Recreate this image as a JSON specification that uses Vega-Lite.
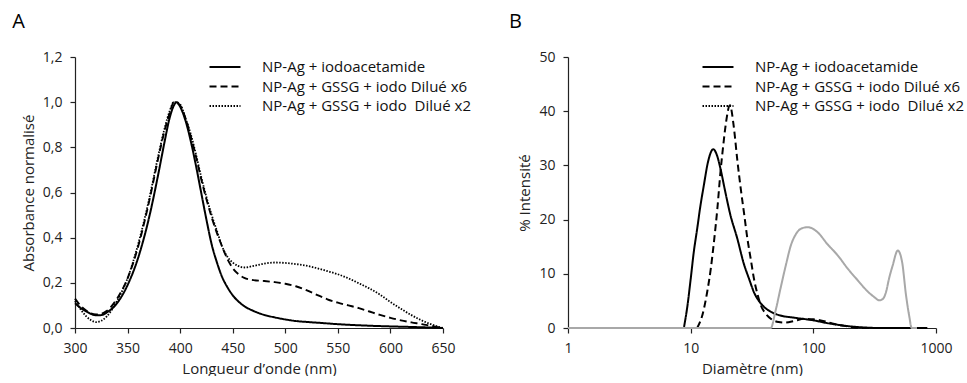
{
  "$schema": "https://vega.github.io/schema/vega-lite/v6.json",
  "background": "white",
  "padding": {"left": 12, "top": 12, "right": 0, "bottom": 0},
  "config": {
    "font": "Open Sans",
    "view": {"stroke": null},
    "axis": {"grid": false, "labelFlush": false, "domainColor": "#222", "tickColor": "#222", "labelColor": "#222", "titleColor": "#222", "labelFontSize": 14, "titleFontSize": 15, "titleFontWeight": "normal", "tickSize": 5, "labelPadding": 8, "titlePadding": 6, "domainWidth": 1.2, "tickWidth": 1.2},
    "legend": {"orient": "none", "legendX": 141, "legendY": 1, "title": null, "labelFontSize": 15, "labelLimit": 400, "labelColor": "#111", "symbolType": "M-2,0H2", "symbolSize": 240, "symbolStrokeWidth": 1.8, "symbolStrokeColor": "black", "labelOffset": 28, "rowPadding": 2.5},
    "title": {"fontSize": 20, "fontWeight": "normal", "anchor": "start", "frame": "bounds", "color": "#000", "offset": 18, "dx": -9}
  },
  "datasets": {
    "A": [
      {"wl": 300, "abs": 0.11, "serie": "NP-Ag + iodoacetamide"},
      {"wl": 305, "abs": 0.09, "serie": "NP-Ag + iodoacetamide"},
      {"wl": 310, "abs": 0.075, "serie": "NP-Ag + iodoacetamide"},
      {"wl": 315, "abs": 0.063, "serie": "NP-Ag + iodoacetamide"},
      {"wl": 320, "abs": 0.056, "serie": "NP-Ag + iodoacetamide"},
      {"wl": 325, "abs": 0.057, "serie": "NP-Ag + iodoacetamide"},
      {"wl": 330, "abs": 0.068, "serie": "NP-Ag + iodoacetamide"},
      {"wl": 340, "abs": 0.11, "serie": "NP-Ag + iodoacetamide"},
      {"wl": 350, "abs": 0.19, "serie": "NP-Ag + iodoacetamide"},
      {"wl": 360, "abs": 0.31, "serie": "NP-Ag + iodoacetamide"},
      {"wl": 370, "abs": 0.48, "serie": "NP-Ag + iodoacetamide"},
      {"wl": 380, "abs": 0.70, "serie": "NP-Ag + iodoacetamide"},
      {"wl": 385, "abs": 0.82, "serie": "NP-Ag + iodoacetamide"},
      {"wl": 390, "abs": 0.93, "serie": "NP-Ag + iodoacetamide"},
      {"wl": 394, "abs": 0.985, "serie": "NP-Ag + iodoacetamide"},
      {"wl": 397, "abs": 1.0, "serie": "NP-Ag + iodoacetamide"},
      {"wl": 400, "abs": 0.98, "serie": "NP-Ag + iodoacetamide"},
      {"wl": 405, "abs": 0.92, "serie": "NP-Ag + iodoacetamide"},
      {"wl": 410, "abs": 0.83, "serie": "NP-Ag + iodoacetamide"},
      {"wl": 415, "abs": 0.72, "serie": "NP-Ag + iodoacetamide"},
      {"wl": 420, "abs": 0.60, "serie": "NP-Ag + iodoacetamide"},
      {"wl": 425, "abs": 0.48, "serie": "NP-Ag + iodoacetamide"},
      {"wl": 430, "abs": 0.37, "serie": "NP-Ag + iodoacetamide"},
      {"wl": 435, "abs": 0.29, "serie": "NP-Ag + iodoacetamide"},
      {"wl": 440, "abs": 0.225, "serie": "NP-Ag + iodoacetamide"},
      {"wl": 445, "abs": 0.18, "serie": "NP-Ag + iodoacetamide"},
      {"wl": 450, "abs": 0.145, "serie": "NP-Ag + iodoacetamide"},
      {"wl": 460, "abs": 0.10, "serie": "NP-Ag + iodoacetamide"},
      {"wl": 470, "abs": 0.075, "serie": "NP-Ag + iodoacetamide"},
      {"wl": 480, "abs": 0.058, "serie": "NP-Ag + iodoacetamide"},
      {"wl": 490, "abs": 0.047, "serie": "NP-Ag + iodoacetamide"},
      {"wl": 500, "abs": 0.038, "serie": "NP-Ag + iodoacetamide"},
      {"wl": 510, "abs": 0.031, "serie": "NP-Ag + iodoacetamide"},
      {"wl": 520, "abs": 0.027, "serie": "NP-Ag + iodoacetamide"},
      {"wl": 535, "abs": 0.022, "serie": "NP-Ag + iodoacetamide"},
      {"wl": 550, "abs": 0.017, "serie": "NP-Ag + iodoacetamide"},
      {"wl": 575, "abs": 0.011, "serie": "NP-Ag + iodoacetamide"},
      {"wl": 600, "abs": 0.007, "serie": "NP-Ag + iodoacetamide"},
      {"wl": 625, "abs": 0.004, "serie": "NP-Ag + iodoacetamide"},
      {"wl": 650, "abs": 0.0, "serie": "NP-Ag + iodoacetamide"},
      {"wl": 300, "abs": 0.13, "serie": "NP-Ag + GSSG + iodo Dilué x6"},
      {"wl": 305, "abs": 0.10, "serie": "NP-Ag + GSSG + iodo Dilué x6"},
      {"wl": 310, "abs": 0.08, "serie": "NP-Ag + GSSG + iodo Dilué x6"},
      {"wl": 315, "abs": 0.065, "serie": "NP-Ag + GSSG + iodo Dilué x6"},
      {"wl": 320, "abs": 0.06, "serie": "NP-Ag + GSSG + iodo Dilué x6"},
      {"wl": 325, "abs": 0.063, "serie": "NP-Ag + GSSG + iodo Dilué x6"},
      {"wl": 330, "abs": 0.075, "serie": "NP-Ag + GSSG + iodo Dilué x6"},
      {"wl": 340, "abs": 0.13, "serie": "NP-Ag + GSSG + iodo Dilué x6"},
      {"wl": 350, "abs": 0.22, "serie": "NP-Ag + GSSG + iodo Dilué x6"},
      {"wl": 360, "abs": 0.36, "serie": "NP-Ag + GSSG + iodo Dilué x6"},
      {"wl": 370, "abs": 0.55, "serie": "NP-Ag + GSSG + iodo Dilué x6"},
      {"wl": 380, "abs": 0.77, "serie": "NP-Ag + GSSG + iodo Dilué x6"},
      {"wl": 385, "abs": 0.87, "serie": "NP-Ag + GSSG + iodo Dilué x6"},
      {"wl": 390, "abs": 0.95, "serie": "NP-Ag + GSSG + iodo Dilué x6"},
      {"wl": 394, "abs": 1.0, "serie": "NP-Ag + GSSG + iodo Dilué x6"},
      {"wl": 400, "abs": 0.985, "serie": "NP-Ag + GSSG + iodo Dilué x6"},
      {"wl": 405, "abs": 0.93, "serie": "NP-Ag + GSSG + iodo Dilué x6"},
      {"wl": 410, "abs": 0.85, "serie": "NP-Ag + GSSG + iodo Dilué x6"},
      {"wl": 415, "abs": 0.76, "serie": "NP-Ag + GSSG + iodo Dilué x6"},
      {"wl": 420, "abs": 0.66, "serie": "NP-Ag + GSSG + iodo Dilué x6"},
      {"wl": 425, "abs": 0.57, "serie": "NP-Ag + GSSG + iodo Dilué x6"},
      {"wl": 430, "abs": 0.49, "serie": "NP-Ag + GSSG + iodo Dilué x6"},
      {"wl": 435, "abs": 0.42, "serie": "NP-Ag + GSSG + iodo Dilué x6"},
      {"wl": 440, "abs": 0.36, "serie": "NP-Ag + GSSG + iodo Dilué x6"},
      {"wl": 445, "abs": 0.305, "serie": "NP-Ag + GSSG + iodo Dilué x6"},
      {"wl": 450, "abs": 0.265, "serie": "NP-Ag + GSSG + iodo Dilué x6"},
      {"wl": 455, "abs": 0.24, "serie": "NP-Ag + GSSG + iodo Dilué x6"},
      {"wl": 461, "abs": 0.222, "serie": "NP-Ag + GSSG + iodo Dilué x6"},
      {"wl": 470, "abs": 0.212, "serie": "NP-Ag + GSSG + iodo Dilué x6"},
      {"wl": 480, "abs": 0.208, "serie": "NP-Ag + GSSG + iodo Dilué x6"},
      {"wl": 490, "abs": 0.203, "serie": "NP-Ag + GSSG + iodo Dilué x6"},
      {"wl": 500, "abs": 0.196, "serie": "NP-Ag + GSSG + iodo Dilué x6"},
      {"wl": 510, "abs": 0.185, "serie": "NP-Ag + GSSG + iodo Dilué x6"},
      {"wl": 520, "abs": 0.168, "serie": "NP-Ag + GSSG + iodo Dilué x6"},
      {"wl": 530, "abs": 0.147, "serie": "NP-Ag + GSSG + iodo Dilué x6"},
      {"wl": 540, "abs": 0.127, "serie": "NP-Ag + GSSG + iodo Dilué x6"},
      {"wl": 550, "abs": 0.112, "serie": "NP-Ag + GSSG + iodo Dilué x6"},
      {"wl": 560, "abs": 0.10, "serie": "NP-Ag + GSSG + iodo Dilué x6"},
      {"wl": 570, "abs": 0.088, "serie": "NP-Ag + GSSG + iodo Dilué x6"},
      {"wl": 580, "abs": 0.073, "serie": "NP-Ag + GSSG + iodo Dilué x6"},
      {"wl": 590, "abs": 0.058, "serie": "NP-Ag + GSSG + iodo Dilué x6"},
      {"wl": 600, "abs": 0.045, "serie": "NP-Ag + GSSG + iodo Dilué x6"},
      {"wl": 610, "abs": 0.034, "serie": "NP-Ag + GSSG + iodo Dilué x6"},
      {"wl": 620, "abs": 0.025, "serie": "NP-Ag + GSSG + iodo Dilué x6"},
      {"wl": 630, "abs": 0.017, "serie": "NP-Ag + GSSG + iodo Dilué x6"},
      {"wl": 640, "abs": 0.008, "serie": "NP-Ag + GSSG + iodo Dilué x6"},
      {"wl": 650, "abs": 0.0, "serie": "NP-Ag + GSSG + iodo Dilué x6"},
      {"wl": 300, "abs": 0.12, "serie": "NP-Ag + GSSG + iodo  Dilué x2"},
      {"wl": 305, "abs": 0.085, "serie": "NP-Ag + GSSG + iodo  Dilué x2"},
      {"wl": 310, "abs": 0.055, "serie": "NP-Ag + GSSG + iodo  Dilué x2"},
      {"wl": 315, "abs": 0.035, "serie": "NP-Ag + GSSG + iodo  Dilué x2"},
      {"wl": 320, "abs": 0.026, "serie": "NP-Ag + GSSG + iodo  Dilué x2"},
      {"wl": 325, "abs": 0.032, "serie": "NP-Ag + GSSG + iodo  Dilué x2"},
      {"wl": 330, "abs": 0.05, "serie": "NP-Ag + GSSG + iodo  Dilué x2"},
      {"wl": 340, "abs": 0.12, "serie": "NP-Ag + GSSG + iodo  Dilué x2"},
      {"wl": 350, "abs": 0.22, "serie": "NP-Ag + GSSG + iodo  Dilué x2"},
      {"wl": 360, "abs": 0.37, "serie": "NP-Ag + GSSG + iodo  Dilué x2"},
      {"wl": 370, "abs": 0.56, "serie": "NP-Ag + GSSG + iodo  Dilué x2"},
      {"wl": 380, "abs": 0.78, "serie": "NP-Ag + GSSG + iodo  Dilué x2"},
      {"wl": 385, "abs": 0.88, "serie": "NP-Ag + GSSG + iodo  Dilué x2"},
      {"wl": 390, "abs": 0.96, "serie": "NP-Ag + GSSG + iodo  Dilué x2"},
      {"wl": 394, "abs": 1.0, "serie": "NP-Ag + GSSG + iodo  Dilué x2"},
      {"wl": 400, "abs": 0.99, "serie": "NP-Ag + GSSG + iodo  Dilué x2"},
      {"wl": 405, "abs": 0.93, "serie": "NP-Ag + GSSG + iodo  Dilué x2"},
      {"wl": 410, "abs": 0.86, "serie": "NP-Ag + GSSG + iodo  Dilué x2"},
      {"wl": 415, "abs": 0.77, "serie": "NP-Ag + GSSG + iodo  Dilué x2"},
      {"wl": 420, "abs": 0.67, "serie": "NP-Ag + GSSG + iodo  Dilué x2"},
      {"wl": 425, "abs": 0.58, "serie": "NP-Ag + GSSG + iodo  Dilué x2"},
      {"wl": 430, "abs": 0.50, "serie": "NP-Ag + GSSG + iodo  Dilué x2"},
      {"wl": 435, "abs": 0.43, "serie": "NP-Ag + GSSG + iodo  Dilué x2"},
      {"wl": 440, "abs": 0.36, "serie": "NP-Ag + GSSG + iodo  Dilué x2"},
      {"wl": 445, "abs": 0.315, "serie": "NP-Ag + GSSG + iodo  Dilué x2"},
      {"wl": 450, "abs": 0.29, "serie": "NP-Ag + GSSG + iodo  Dilué x2"},
      {"wl": 455, "abs": 0.275, "serie": "NP-Ag + GSSG + iodo  Dilué x2"},
      {"wl": 461, "abs": 0.268, "serie": "NP-Ag + GSSG + iodo  Dilué x2"},
      {"wl": 470, "abs": 0.275, "serie": "NP-Ag + GSSG + iodo  Dilué x2"},
      {"wl": 480, "abs": 0.285, "serie": "NP-Ag + GSSG + iodo  Dilué x2"},
      {"wl": 490, "abs": 0.29, "serie": "NP-Ag + GSSG + iodo  Dilué x2"},
      {"wl": 500, "abs": 0.288, "serie": "NP-Ag + GSSG + iodo  Dilué x2"},
      {"wl": 510, "abs": 0.283, "serie": "NP-Ag + GSSG + iodo  Dilué x2"},
      {"wl": 520, "abs": 0.276, "serie": "NP-Ag + GSSG + iodo  Dilué x2"},
      {"wl": 530, "abs": 0.265, "serie": "NP-Ag + GSSG + iodo  Dilué x2"},
      {"wl": 540, "abs": 0.252, "serie": "NP-Ag + GSSG + iodo  Dilué x2"},
      {"wl": 550, "abs": 0.238, "serie": "NP-Ag + GSSG + iodo  Dilué x2"},
      {"wl": 560, "abs": 0.22, "serie": "NP-Ag + GSSG + iodo  Dilué x2"},
      {"wl": 570, "abs": 0.198, "serie": "NP-Ag + GSSG + iodo  Dilué x2"},
      {"wl": 580, "abs": 0.175, "serie": "NP-Ag + GSSG + iodo  Dilué x2"},
      {"wl": 590, "abs": 0.148, "serie": "NP-Ag + GSSG + iodo  Dilué x2"},
      {"wl": 600, "abs": 0.115, "serie": "NP-Ag + GSSG + iodo  Dilué x2"},
      {"wl": 610, "abs": 0.085, "serie": "NP-Ag + GSSG + iodo  Dilué x2"},
      {"wl": 620, "abs": 0.057, "serie": "NP-Ag + GSSG + iodo  Dilué x2"},
      {"wl": 630, "abs": 0.033, "serie": "NP-Ag + GSSG + iodo  Dilué x2"},
      {"wl": 640, "abs": 0.014, "serie": "NP-Ag + GSSG + iodo  Dilué x2"},
      {"wl": 650, "abs": 0.0, "serie": "NP-Ag + GSSG + iodo  Dilué x2"}
    ],
    "B": [
      {"d": 8.8, "pct": 0, "serie": "NP-Ag + iodoacetamide"},
      {"d": 9.4, "pct": 4, "serie": "NP-Ag + iodoacetamide"},
      {"d": 10, "pct": 9, "serie": "NP-Ag + iodoacetamide"},
      {"d": 10.6, "pct": 14, "serie": "NP-Ag + iodoacetamide"},
      {"d": 11.3, "pct": 18.3, "serie": "NP-Ag + iodoacetamide"},
      {"d": 12, "pct": 22.5, "serie": "NP-Ag + iodoacetamide"},
      {"d": 12.8, "pct": 26.3, "serie": "NP-Ag + iodoacetamide"},
      {"d": 13.8, "pct": 30.5, "serie": "NP-Ag + iodoacetamide"},
      {"d": 15.3, "pct": 33, "serie": "NP-Ag + iodoacetamide"},
      {"d": 16.3, "pct": 32, "serie": "NP-Ag + iodoacetamide"},
      {"d": 17.5, "pct": 29.4, "serie": "NP-Ag + iodoacetamide"},
      {"d": 19, "pct": 25.5, "serie": "NP-Ag + iodoacetamide"},
      {"d": 21, "pct": 21, "serie": "NP-Ag + iodoacetamide"},
      {"d": 24, "pct": 16.5, "serie": "NP-Ag + iodoacetamide"},
      {"d": 27, "pct": 12, "serie": "NP-Ag + iodoacetamide"},
      {"d": 30, "pct": 9, "serie": "NP-Ag + iodoacetamide"},
      {"d": 32.8, "pct": 6.6, "serie": "NP-Ag + iodoacetamide"},
      {"d": 36, "pct": 5, "serie": "NP-Ag + iodoacetamide"},
      {"d": 39.6, "pct": 3.9, "serie": "NP-Ag + iodoacetamide"},
      {"d": 45, "pct": 3, "serie": "NP-Ag + iodoacetamide"},
      {"d": 54, "pct": 2.3, "serie": "NP-Ag + iodoacetamide"},
      {"d": 70, "pct": 1.9, "serie": "NP-Ag + iodoacetamide"},
      {"d": 101, "pct": 1.4, "serie": "NP-Ag + iodoacetamide"},
      {"d": 130, "pct": 0.9, "serie": "NP-Ag + iodoacetamide"},
      {"d": 158, "pct": 0.6, "serie": "NP-Ag + iodoacetamide"},
      {"d": 200, "pct": 0.3, "serie": "NP-Ag + iodoacetamide"},
      {"d": 260, "pct": 0.1, "serie": "NP-Ag + iodoacetamide"},
      {"d": 350, "pct": 0, "serie": "NP-Ag + iodoacetamide"},
      {"d": 850, "pct": 0, "serie": "NP-Ag + iodoacetamide"},
      {"d": 11.3, "pct": 0, "serie": "NP-Ag + GSSG + iodo Dilué x6"},
      {"d": 12.5, "pct": 2.5, "serie": "NP-Ag + GSSG + iodo Dilué x6"},
      {"d": 13.6, "pct": 6.5, "serie": "NP-Ag + GSSG + iodo Dilué x6"},
      {"d": 14.6, "pct": 11, "serie": "NP-Ag + GSSG + iodo Dilué x6"},
      {"d": 15.5, "pct": 16, "serie": "NP-Ag + GSSG + iodo Dilué x6"},
      {"d": 16.5, "pct": 22, "serie": "NP-Ag + GSSG + iodo Dilué x6"},
      {"d": 17.5, "pct": 28.8, "serie": "NP-Ag + GSSG + iodo Dilué x6"},
      {"d": 18.5, "pct": 34, "serie": "NP-Ag + GSSG + iodo Dilué x6"},
      {"d": 19.3, "pct": 37.5, "serie": "NP-Ag + GSSG + iodo Dilué x6"},
      {"d": 20.9, "pct": 41.1, "serie": "NP-Ag + GSSG + iodo Dilué x6"},
      {"d": 22.5, "pct": 37, "serie": "NP-Ag + GSSG + iodo Dilué x6"},
      {"d": 24, "pct": 31, "serie": "NP-Ag + GSSG + iodo Dilué x6"},
      {"d": 25.6, "pct": 25.7, "serie": "NP-Ag + GSSG + iodo Dilué x6"},
      {"d": 27.3, "pct": 21, "serie": "NP-Ag + GSSG + iodo Dilué x6"},
      {"d": 29, "pct": 16.5, "serie": "NP-Ag + GSSG + iodo Dilué x6"},
      {"d": 31, "pct": 12.5, "serie": "NP-Ag + GSSG + iodo Dilué x6"},
      {"d": 32.8, "pct": 9.1, "serie": "NP-Ag + GSSG + iodo Dilué x6"},
      {"d": 35, "pct": 6.3, "serie": "NP-Ag + GSSG + iodo Dilué x6"},
      {"d": 37.3, "pct": 4.2, "serie": "NP-Ag + GSSG + iodo Dilué x6"},
      {"d": 41, "pct": 2.6, "serie": "NP-Ag + GSSG + iodo Dilué x6"},
      {"d": 45, "pct": 1.7, "serie": "NP-Ag + GSSG + iodo Dilué x6"},
      {"d": 52, "pct": 1.1, "serie": "NP-Ag + GSSG + iodo Dilué x6"},
      {"d": 58, "pct": 1.0, "serie": "NP-Ag + GSSG + iodo Dilué x6"},
      {"d": 70, "pct": 1.3, "serie": "NP-Ag + GSSG + iodo Dilué x6"},
      {"d": 84, "pct": 1.7, "serie": "NP-Ag + GSSG + iodo Dilué x6"},
      {"d": 100, "pct": 1.6, "serie": "NP-Ag + GSSG + iodo Dilué x6"},
      {"d": 115, "pct": 1.4, "serie": "NP-Ag + GSSG + iodo Dilué x6"},
      {"d": 135, "pct": 1.0, "serie": "NP-Ag + GSSG + iodo Dilué x6"},
      {"d": 158, "pct": 0.6, "serie": "NP-Ag + GSSG + iodo Dilué x6"},
      {"d": 190, "pct": 0.3, "serie": "NP-Ag + GSSG + iodo Dilué x6"},
      {"d": 215, "pct": 0.1, "serie": "NP-Ag + GSSG + iodo Dilué x6"},
      {"d": 260, "pct": 0, "serie": "NP-Ag + GSSG + iodo Dilué x6"},
      {"d": 850, "pct": 0, "serie": "NP-Ag + GSSG + iodo Dilué x6"},
      {"d": 1, "pct": 0, "serie": "NP-Ag + GSSG + iodo  Dilué x2"},
      {"d": 45, "pct": 0, "serie": "NP-Ag + GSSG + iodo  Dilué x2"},
      {"d": 49, "pct": 3, "serie": "NP-Ag + GSSG + iodo  Dilué x2"},
      {"d": 54, "pct": 7.3, "serie": "NP-Ag + GSSG + iodo  Dilué x2"},
      {"d": 60, "pct": 11.8, "serie": "NP-Ag + GSSG + iodo  Dilué x2"},
      {"d": 65.5, "pct": 15.2, "serie": "NP-Ag + GSSG + iodo  Dilué x2"},
      {"d": 72, "pct": 17.3, "serie": "NP-Ag + GSSG + iodo  Dilué x2"},
      {"d": 79, "pct": 18.3, "serie": "NP-Ag + GSSG + iodo  Dilué x2"},
      {"d": 89.7, "pct": 18.6, "serie": "NP-Ag + GSSG + iodo  Dilué x2"},
      {"d": 108, "pct": 17.7, "serie": "NP-Ag + GSSG + iodo  Dilué x2"},
      {"d": 130, "pct": 15.5, "serie": "NP-Ag + GSSG + iodo  Dilué x2"},
      {"d": 158, "pct": 13.4, "serie": "NP-Ag + GSSG + iodo  Dilué x2"},
      {"d": 190, "pct": 11, "serie": "NP-Ag + GSSG + iodo  Dilué x2"},
      {"d": 230, "pct": 8.8, "serie": "NP-Ag + GSSG + iodo  Dilué x2"},
      {"d": 270, "pct": 7, "serie": "NP-Ag + GSSG + iodo  Dilué x2"},
      {"d": 314, "pct": 5.7, "serie": "NP-Ag + GSSG + iodo  Dilué x2"},
      {"d": 345, "pct": 5.1, "serie": "NP-Ag + GSSG + iodo  Dilué x2"},
      {"d": 370, "pct": 5.4, "serie": "NP-Ag + GSSG + iodo  Dilué x2"},
      {"d": 391, "pct": 6.6, "serie": "NP-Ag + GSSG + iodo  Dilué x2"},
      {"d": 415, "pct": 9.2, "serie": "NP-Ag + GSSG + iodo  Dilué x2"},
      {"d": 443, "pct": 11.5, "serie": "NP-Ag + GSSG + iodo  Dilué x2"},
      {"d": 488, "pct": 14.3, "serie": "NP-Ag + GSSG + iodo  Dilué x2"},
      {"d": 529, "pct": 12.2, "serie": "NP-Ag + GSSG + iodo  Dilué x2"},
      {"d": 570, "pct": 6.0, "serie": "NP-Ag + GSSG + iodo  Dilué x2"},
      {"d": 605, "pct": 2.2, "serie": "NP-Ag + GSSG + iodo  Dilué x2"},
      {"d": 634, "pct": 0, "serie": "NP-Ag + GSSG + iodo  Dilué x2"},
      {"d": 700, "pct": 0, "serie": "NP-Ag + GSSG + iodo  Dilué x2"}
    ]
  },
  "spacing": 37,
  "resolve": {"scale": {"strokeDash": "independent", "color": "independent", "strokeWidth": "independent"}, "legend": {"strokeDash": "independent"}},
  "hconcat": [
    {
      "title": {"text": "A"},
      "width": 368,
      "height": 271,
      "data": {"name": "A"},
      "mark": {"type": "line", "interpolate": "monotone", "color": "black"},
      "encoding": {
        "x": {"field": "wl", "type": "quantitative", "scale": {"domain": [300, 650], "nice": false, "zero": false}, "axis": {"values": [300, 350, 400, 450, 500, 550, 600, 650], "title": "Longueur d’onde (nm)"}},
        "y": {"field": "abs", "type": "quantitative", "scale": {"domain": [0, 1.2], "nice": false}, "axis": {"values": [0, 0.2, 0.4, 0.6, 0.8, 1.0, 1.2], "labelExpr": "replace(format(datum.value, '.1f'), '.', ',')", "title": "Absorbance normalisé"}},
        "strokeDash": {"field": "serie", "type": "nominal", "scale": {"domain": ["NP-Ag + iodoacetamide", "NP-Ag + GSSG + iodo Dilué x6", "NP-Ag + GSSG + iodo  Dilué x2"], "range": [[1, 0], [7, 4], [1.5, 1.5]]}, "legend": {"labelExpr": "replace(datum.label, '  ', '\u00a0 ')"}},
        "strokeWidth": {"field": "serie", "type": "nominal", "scale": {"domain": ["NP-Ag + iodoacetamide", "NP-Ag + GSSG + iodo Dilué x6", "NP-Ag + GSSG + iodo  Dilué x2"], "range": [2, 1.8, 1.3]}, "legend": null}
      }
    },
    {
      "title": {"text": "B"},
      "width": 368,
      "height": 271,
      "resolve": {"scale": {"strokeDash": "independent"}},
      "layer": [
        {
          "data": {"name": "B"},
          "mark": {"type": "line", "interpolate": "monotone", "strokeWidth": 2},
          "encoding": {
            "x": {"field": "d", "type": "quantitative", "scale": {"type": "log", "domain": [1, 1000], "nice": false}, "axis": {"values": [1, 10, 100, 1000], "format": "d", "title": "Diamètre (nm)"}},
            "y": {"field": "pct", "type": "quantitative", "scale": {"domain": [0, 50], "nice": false}, "axis": {"values": [0, 10, 20, 30, 40, 50], "title": "% Intensité"}},
            "color": {"field": "serie", "type": "nominal", "scale": {"domain": ["NP-Ag + iodoacetamide", "NP-Ag + GSSG + iodo Dilué x6", "NP-Ag + GSSG + iodo  Dilué x2"], "range": ["#000000", "#000000", "#a8a8a8"]}, "legend": null},
            "strokeDash": {"field": "serie", "type": "nominal", "scale": {"domain": ["NP-Ag + iodoacetamide", "NP-Ag + GSSG + iodo Dilué x6", "NP-Ag + GSSG + iodo  Dilué x2"], "range": [[1, 0], [7, 4], [1, 0]]}, "legend": null}
          }
        },
        {
          "data": {"values": []},
          "mark": {"type": "line"},
          "encoding": {
            "x": {"field": "d", "type": "quantitative"},
            "y": {"field": "pct", "type": "quantitative"},
            "strokeDash": {"field": "serie", "type": "nominal", "scale": {"domain": ["NP-Ag + iodoacetamide", "NP-Ag + GSSG + iodo Dilué x6", "NP-Ag + GSSG + iodo  Dilué x2"], "range": [[1, 0], [7, 4], [1.5, 1.5]]}, "legend": {"labelExpr": "replace(datum.label, '  ', '\u00a0 ')"}}
          }
        }
      ]
    }
  ]
}
